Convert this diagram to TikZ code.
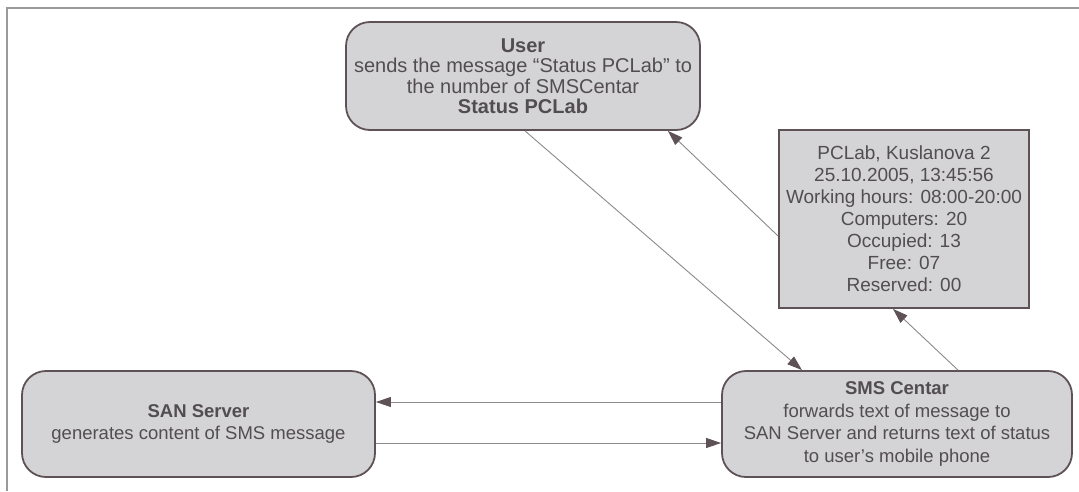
\documentclass[tikz,border=0pt]{standalone}
\usepackage{fontspec}
\setmainfont{Liberation Sans}
\usetikzlibrary{arrows.meta}
\definecolor{boxfill}{HTML}{D4D4D6}
\definecolor{boxline}{HTML}{5E5257}
\definecolor{txt}{HTML}{524D51}
\definecolor{conn}{HTML}{8C8A8C}
\definecolor{frame}{HTML}{9A9A9C}
\tikzset{
  proc/.style={draw=boxline, fill=boxfill, line width=1.8pt, rounded corners=24pt,
    align=center, text=txt, inner sep=0pt,
    font=\fontsize{18.5}{22.5}\selectfont},
  statusbox/.style={draw=boxline, fill=boxfill, line width=1.8pt,
    align=center, text=txt, inner sep=0pt,
    font=\fontsize{19}{22}\selectfont},
  conn/.style={draw=conn, line width=0.9pt,
    -{Triangle[length=15pt,width=10pt,color=boxline,fill=boxline]}},
}
\begin{document}
\begin{tikzpicture}[x=1pt,y=-1pt]
\useasboundingbox (0,0) rectangle (1079,491);
\fill[white] (0,0) rectangle (1079,491);
\draw[frame, line width=1.2pt] (7,491) -- (7,8) -- (1079,8);

\node[proc, minimum width=354pt, minimum height=108pt, font=\fontsize{20}{20.5}\selectfont] (user) at (523,76)
  {\textbf{User}\\sends the message “Status PCLab” to\\the number of SMSCentar\\\textbf{Status PCLab}};
\node[statusbox, minimum width=250pt, minimum height=178pt] (status) at (904,219)
  {PCLab, Kuslanova 2\\25.10.2005, 13:45:56\\Working hours: 08:00-20:00\\Computers: 20\\Occupied: 13\\Free: 07\\Reserved: 00};
\node[proc, minimum width=353pt, minimum height=106pt] (san) at (198.5,424)
  {\textbf{SAN Server}\\generates content of SMS message};
\node[proc, minimum width=350pt, minimum height=106pt] (sms) at (897,424)
  {\textbf{SMS Centar}\\forwards text of message to\\SAN Server and returns text of status\\to user’s mobile phone};

\draw[conn] ([xshift=2pt]user.south) -- ([xshift=-95pt]sms.north);
\draw[conn] ([xshift=61pt]sms.north) -- ([xshift=-11pt]status.south);
\draw[conn] ([yshift=-17pt]status.west) -- ([xshift=-33pt]user.south east);
\draw[conn] ([yshift=22pt]sms.west) -- ([yshift=22pt]san.east);
\draw[conn] ([yshift=-19pt]san.east) -- ([yshift=-19pt]sms.west);
\end{tikzpicture}
\end{document}
